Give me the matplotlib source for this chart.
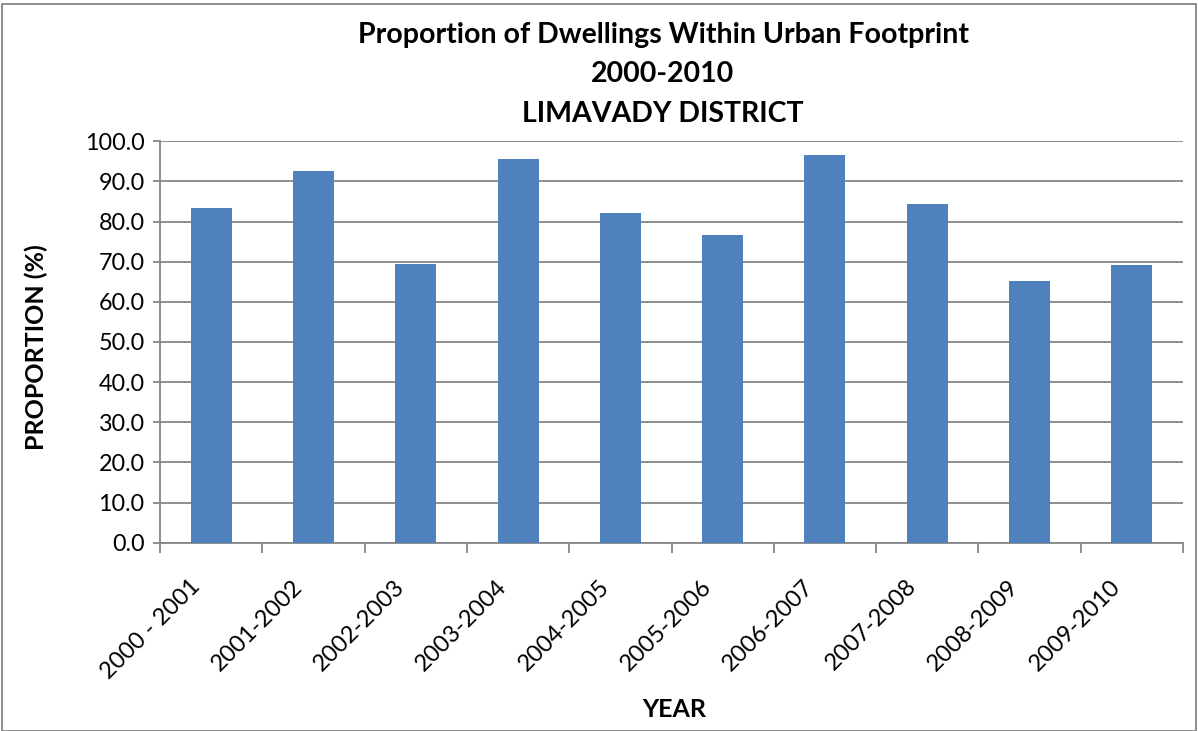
import matplotlib
matplotlib.use("Agg")
import matplotlib.pyplot as plt
import matplotlib.transforms as mtransforms
from matplotlib.patches import Rectangle

# Data
years = ["2000 - 2001", "2001-2002", "2002-2003", "2003-2004", "2004-2005",
         "2005-2006", "2006-2007", "2007-2008", "2008-2009", "2009-2010"]
proportion = [83.4, 92.6, 69.4, 95.6, 82.1, 76.6, 96.6, 84.4, 65.2, 69.2]
y_ticks = [0, 10, 20, 30, 40, 50, 60, 70, 80, 90, 100]

plt.rcParams["font.family"] = ["Lato", "DejaVu Sans"]
W, H = 1198, 731
fig = plt.figure(figsize=(W / 100, H / 100), dpi=100)

# plot area in pixel coords
left, right, top, bottom = 160, 1183, 141.3, 542.7
ax = fig.add_axes([left / W, 1 - bottom / H, (right - left) / W, (bottom - top) / H])

grid_col = "#868686"
x = list(range(len(years)))
ax.bar(x, proportion, width=0.4, color="#4F81BD", zorder=3)

ax.set_xlim(-0.5, len(years) - 0.5)
ax.set_ylim(0, 100)
ax.set_yticks(y_ticks)
ax.set_yticklabels([f"{v:.1f}" for v in y_ticks], fontsize=16.8)
ax.yaxis.grid(True, color=grid_col, linewidth=1.3, zorder=0)

# category labels under bars, tick marks between categories
ax.set_xticks(x)
ax.set_xticklabels(years, rotation=45, ha="right", va="top",
                   rotation_mode="anchor", fontsize=17)
ax.tick_params(axis="x", length=0, pad=0)
shift = mtransforms.ScaledTranslation(-22 / 100, -33 / 100, fig.dpi_scale_trans)
for lbl in ax.get_xticklabels():
    lbl.set_transform(lbl.get_transform() + shift)
ax.set_xticks([i - 0.5 for i in range(len(years) + 1)], minor=True)
ax.tick_params(axis="x", which="minor", length=7, color=grid_col, width=1.3)
ax.tick_params(axis="y", length=5, color=grid_col, width=1.3, pad=6)

for s in ["top", "right"]:
    ax.spines[s].set_visible(False)
for s in ["left", "bottom"]:
    ax.spines[s].set_color(grid_col)
    ax.spines[s].set_linewidth(1.3)

title_lines = ["Proportion of Dwellings Within Urban Footprint", "2000-2010", "LIMAVADY DISTRICT"]
for line, base in zip(title_lines, [43, 82.5, 122]):
    fig.text(663 / W, 1 - base / H, line, ha="center", va="baseline",
             fontsize=20.5, fontweight="bold")

fig.text(674 / W, 1 - 717 / H, "YEAR", ha="center", va="baseline",
         fontsize=18, fontweight="bold")
fig.text(36 / W, 1 - 347 / H, "PROPORTION (%)", ha="center", va="center",
         rotation=90, fontsize=18, fontweight="bold")

# outer chart border
fig.patches.append(Rectangle((2 / W, 0), (W - 4) / W, 1 - 4 / H, transform=fig.transFigure,
                             fill=False, edgecolor=grid_col, linewidth=1.3))

fig.savefig("out.png", dpi=100)
